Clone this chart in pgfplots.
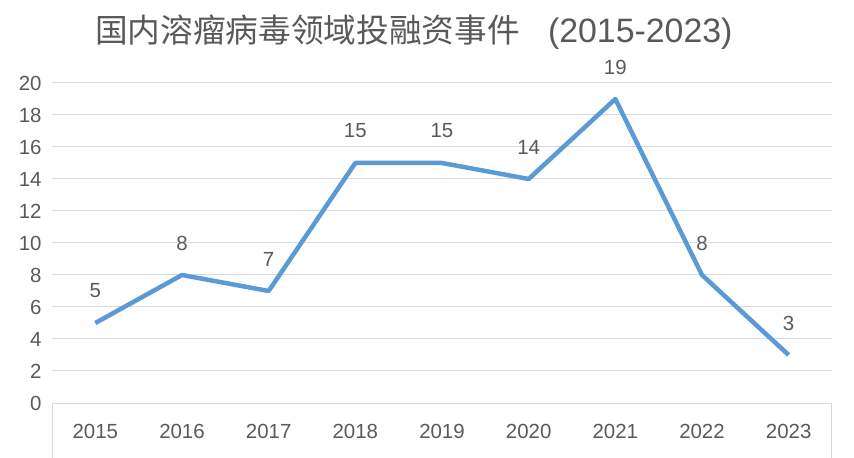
\documentclass[border=0pt]{standalone}
\usepackage{fontspec}
\setmainfont{Liberation Sans}
\newfontfamily\cjk{Noto Sans CJK SC}
\usepackage{pgfplots}
\pgfplotsset{compat=1.18}
\definecolor{linec}{HTML}{5B9BD5}
\definecolor{gridc}{HTML}{D9D9D9}
\definecolor{txt}{HTML}{595959}
\begin{document}
\begin{tikzpicture}
\useasboundingbox (0,0) rectangle (854bp,458bp);
\begin{axis}[
  name=ax,
  at={(52bp,55bp)}, anchor=south west,
  scale only axis, width=780bp, height=320bp,
  xmin=-0.5, xmax=8.5, ymin=0, ymax=20,
  xtick={0,1,2,3,4,5,6,7,8},
  xticklabels={2015,2016,2017,2018,2019,2020,2021,2022,2023},
  ytick={0,2,4,6,8,10,12,14,16,18,20},
  axis line style={draw=none},
  major tick length=0pt,
  ymajorgrids, grid style={gridc, line width=1bp},
  /pgf/number format/assume math mode=true,
  tick label style={font=\fontsize{20.5}{20.5}\selectfont, text=txt},
  yticklabel style={xshift=-7bp},
  xticklabel style={yshift=-18bp},
  clip=false,
  nodes near coords,
  every node near coord/.style={font=\fontsize{20.5}{20.5}\selectfont, text=txt, anchor=center, yshift=32bp},
]
\addplot[linec, line width=4.5bp, line join=round] coordinates {
  (0,5) (1,8) (2,7) (3,15) (4,15) (5,14) (6,19) (7,8) (8,3)
};
\end{axis}
\draw[gridc, line width=1bp] (ax.south west) -- ++(0,-55bp);
\draw[gridc, line width=1bp] (ax.south east) -- ++(0,-55bp);
\node[text=txt, anchor=west, inner sep=0pt] at (95bp,426bp) {{\cjk\fontsize{32.8}{33}\selectfont 国内溶瘤病毒领域投融资事件}\hspace{28bp}{\fontsize{34}{34}\selectfont (2015-2023)}};
\end{tikzpicture}
\end{document}
